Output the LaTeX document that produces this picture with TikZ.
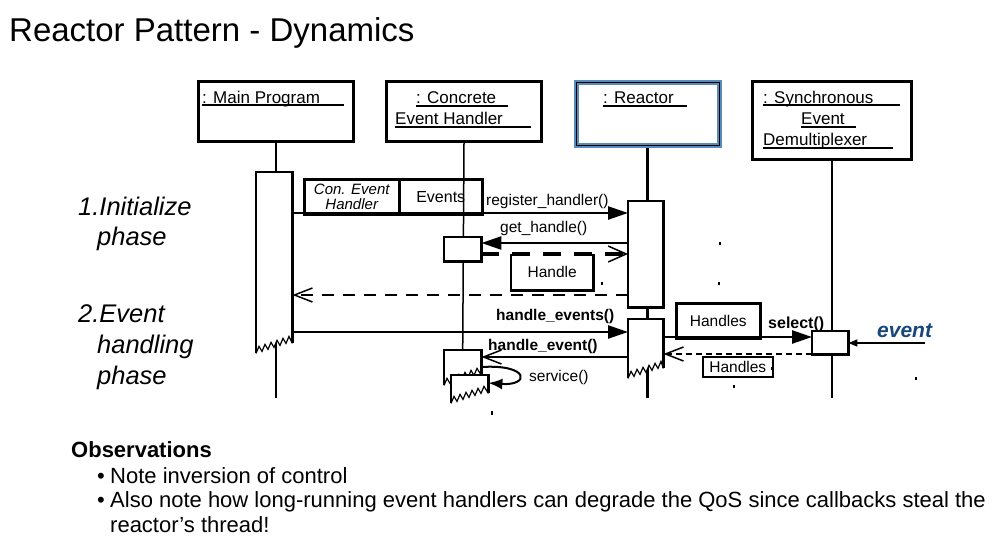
\documentclass[tikz,border=0pt]{standalone}
\usepackage{fontspec}
\setmainfont{Liberation Sans}
\usetikzlibrary{arrows.meta,positioning}
\definecolor{reactorblue}{RGB}{88,138,186}
\definecolor{eventblue}{RGB}{22,72,122}
\newcommand{\fsz}[1]{\fontsize{#1}{#1}\selectfont}
% zigzag (torn) bottom of an activation bar
\newcommand{\tornzig}[1]{([yshift=-10pt]#1.south west) -- ++(3,-7) -- ++(3,5) -- ++(3,-7) -- ++(3,5) -- ++(3,-7) -- ++(3,5) -- ++(3,-7) -- ++(3,5) -- ++(3,-7) -- ++(3,5) -- ++(3,-7) -- (#1.south east)}
\newcommand{\tornbar}[1]{%
  \fill[white] \tornzig{#1} -- (#1.north east) -- (#1.north west) -- cycle;
  \draw[line width=1.2] \tornzig{#1};
  \draw[line width=2.5] (#1.south east) -- (#1.north east) -- (#1.north west) -- ([yshift=-10pt]#1.south west);}
\tikzset{
  txt/.style={anchor=base west, inner sep=0},
  objbox/.style={draw, line width=3, fill=white, anchor=north west, inner sep=0},
  uline/.style={line width=2},
  bar/.style={anchor=north west, inner sep=0, minimum width=36},
  actline/.style={line width=2.5, fill=white},
  lifeline/.style={line width=2.5},
  databox/.style={draw, line width=2.5, anchor=north west, inner sep=0},
  call/.style={line width=2.5, -{Triangle[length=20pt,width=13pt]}},
  callopen/.style={line width=1.5, -{Straight Barb[length=18pt,width=14pt,line width=1.5pt]}},
  reply/.style={line width=1.5, dash pattern=on 12pt off 9pt, -{Straight Barb[length=18pt,width=14pt,line width=1.5pt]}},
  bigreply/.style={line width=3.5, dash pattern=on 18pt off 13pt, -{Straight Barb[length=18pt,width=16pt,line width=1.5pt]}},
  selfcall/.style={line width=2, -{Latex[length=14pt,width=11pt]}}
}

\begin{document}
\begin{tikzpicture}[x=1pt,y=-1pt]
\useasboundingbox (0,0) rectangle (998,538);
\node[txt, font=\fsz{33}] (title) at (9,41) {Reactor Pattern - Dynamics};

% objects
\node[objbox, minimum width=155, minimum height=60] (mainobj) at (197,80) {};
\node[objbox, minimum width=155, minimum height=60] (conobj) at (385,80) {};
\node[objbox, draw=reactorblue, line width=4.5, minimum width=143, minimum height=63] (reactobj) at (574,80) {};
\draw[line width=1] ([shift={(2.5pt,-2.5pt)}]reactobj.north west) rectangle ([shift={(-2.5pt,2.5pt)}]reactobj.south east);
\node[objbox, minimum width=159, minimum height=78] (demobj) at (751,80) {};

\node[txt, font=\fsz{17}] (mainname) at (202,103) {: Main Program};
\draw[uline] (202,105) -- (344,105);
\node[txt, font=\fsz{17}] (conname1) at (416,103) {: Concrete};
\draw[uline] (416,106) -- (508,106);
\node[txt, font=\fsz{17}] (conname2) at (395,124) {Event Handler};
\draw[uline] (395,127) -- (531,127);
\node[txt, font=\fsz{17}] (reactname) at (603,103) {: Reactor};
\draw[uline] (603,106) -- (687,106);
\node[txt, font=\fsz{17}] (demname1) at (763,103) {: Synchronous};
\draw[uline] (763,105) -- (900,105);
\node[txt, font=\fsz{17}] (demname2) at (801,124) {Event};
\draw[uline] (801,127) -- (856,127);
\node[txt, font=\fsz{17}] (demname3) at (763,145) {Demultiplexer};
\draw[uline] (763,148) -- (893,148);

% levels
\coordinate (ybot) at (0,398);
\coordinate (yreg) at (0,213);
\coordinate (yget) at (0,243);
\coordinate (yhnd) at (0,254);
\coordinate (yret) at (0,295);
\coordinate (yhes) at (0,332);
\coordinate (ysel) at (0,337);
\coordinate (ydem) at (0,354);
\coordinate (yhev) at (0,357);
\coordinate (ysv1) at (0,367);
\coordinate (ysv2) at (0,383);

% activation bars (placed first, drawn after the lifelines)
\path node[bar, minimum height=171] (mainact) at (256,172) {}
  node[bar, minimum height=106, minimum width=35] (react1) at (628,201) {}
  node[bar, minimum height=49, minimum width=35] (react2) at (628,319) {}
  node[bar, minimum height=24, minimum width=37] (hsmall) at (444,237) {}
  node[bar, minimum height=25, minimum width=37] (hact) at (444,350) {}
  node[bar, minimum height=18, minimum width=37] (hnest) at (451,375) {}
  node[bar, minimum height=23] (demact) at (812,331) {};

% lifelines
\draw[lifeline] (mainobj.south) -- (mainobj.south |- ybot);
\draw[lifeline, line width=1.5] (conobj.south) -- (hact.north);
\draw[lifeline, line width=3] (reactobj.south) -- (reactobj.south |- ybot);
\draw[lifeline, line width=2] (demobj.south) -- (demobj.south |- ybot);

\tornbar{mainact}
\draw[actline] (react1.north west) rectangle (react1.south east);
\tornbar{react2}
\draw[actline] (hsmall.north west) rectangle (hsmall.south east);
\tornbar{hact}
\tornbar{hnest}
\draw[actline] (demact.north west) rectangle (demact.south east);

% phases
\node[txt, font=\fsz{25.5}\itshape] (ph1a) at (78,215) {1.Initialize};
\node[txt, font=\fsz{25.5}\itshape] (ph1b) at (97,245) {phase};
\node[txt, font=\fsz{25.5}\itshape] (ph2a) at (78,322) {2.Event};
\node[txt, font=\fsz{25.5}\itshape] (ph2b) at (97,353) {handling};
\node[txt, font=\fsz{25.5}\itshape] (ph2c) at (97,384) {phase};

% data passed along
\node[databox, minimum width=95, minimum height=35, font=\fontsize{15}{15}\selectfont\itshape, align=center] (cehbox) at (303,178) {Con. Event\\Handler};
\node[databox, minimum width=83, minimum height=35, font=\fsz{16}] (evbox) at (398,178) {Events};
\node[anchor=north west, inner sep=0, minimum width=82, minimum height=36, font=\fsz{15.5}] (hndbox) at (511,254) {Handle};
\draw[line width=2.5] (hndbox.north west) -- (hndbox.south west) -- (hndbox.south east) -- (hndbox.north east);
\node[databox, minimum width=84, minimum height=35, font=\fsz{15.5}] (hdlbox) at (675,302) {Handles};
\node[databox, line width=1.5, minimum width=70, minimum height=20, font=\fsz{15.5}] (hdlbox2) at (702,356) {Handles};

% messages
\draw[call] (mainact.east |- yreg) -- (react1.west |- yreg);
\draw[call] (react1.west |- yget) -- (hsmall.east |- yget);
\draw[bigreply] (hsmall.east |- yhnd) -- (react1.west |- yhnd);
\draw[reply] (react1.west |- yret) -- (mainact.east |- yret);
\draw[call] (mainact.east |- yhes) -- (react2.west |- yhes);
\draw[callopen] (react2.west |- yhev) -- (hact.east |- yhev);
\draw[selfcall] (hact.east |- ysv1) .. controls (530,364) and (530,386) .. (hnest.east |- ysv2);
\draw[call] (react2.east |- ysel) -- (demact.west |- ysel);
\draw[reply, dash pattern=on 6pt off 4pt] (demact.west |- ydem) -- (react2.east |- ydem);
\coordinate (evsrc) at (925,343);
\draw[line width=1.5, -{Triangle[length=9pt,width=7pt]}] (evsrc) -- (demact.east |- evsrc);

\node[txt, font=\fsz{15.5}] (lreg) at (486,205) {register\_handler()};
\node[txt, font=\fsz{15.5}] (lget) at (500,232) {get\_handle()};
\node[txt, font=\fsz{15.5}\bfseries] (lhes) at (496,320) {handle\_events()};
\node[txt, font=\fsz{15.5}\bfseries] (lhev) at (488,350) {handle\_event()};
\node[txt, font=\fsz{15.5}] (lsrv) at (529,381) {service()};
\node[txt, font=\fsz{16}\bfseries] (lsel) at (768,328) {select()};
\node[txt, font=\fsz{21}\bfseries\itshape, text=eventblue] (levt) at (877,337) {event};

% stray specks
\fill (719,242) rectangle ++(2,3);
\fill (601,282) rectangle ++(2,3);
\fill (718,282) rectangle ++(2,3);
\fill (771,367) rectangle ++(2,3);
\fill (733,385) rectangle ++(2,3);
\fill (915,377) rectangle ++(2,3);
\fill (491,411) rectangle ++(2,4);

% observations
\node[txt, font=\fsz{22}\bfseries] (obs) at (71,457) {Observations};
\node[txt, font=\fsz{22}] (b1) at (97,483) {•};
\node[txt, font=\fsz{22}] (obs1) at (110,483) {Note inversion of control};
\node[txt, font=\fsz{22}] (b2) at (97,507) {•};
\node[txt, font=\fsz{22}] (obs2) at (110,507) {Also note how long-running event handlers can degrade the QoS since callbacks steal the};
\node[txt, font=\fsz{22}] (obs3) at (110,532) {reactor’s thread!};
\end{tikzpicture}
\end{document}
